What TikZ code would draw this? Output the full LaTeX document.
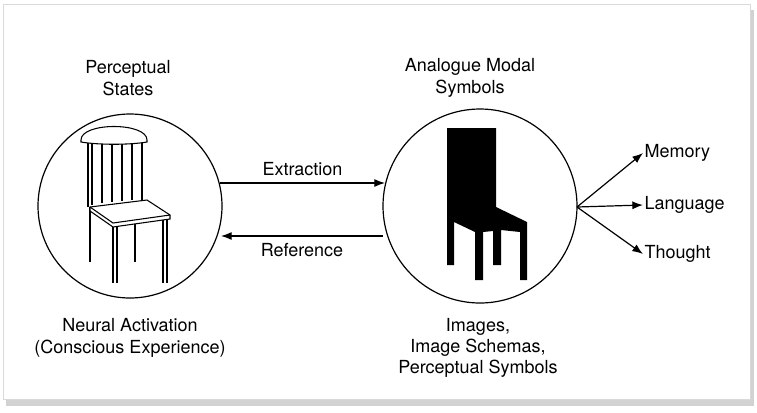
\documentclass[tikz,border=0pt]{standalone}
\usepackage{fontspec}
\usetikzlibrary{arrows.meta}
\setmainfont{TeX Gyre Heros}
\begin{document}
\begin{tikzpicture}[x=0.75pt,y=-0.75pt,
  lbl/.style={font=\fontsize{13.5}{16}\selectfont,align=center,inner sep=1pt},
  circ/.style={draw,circle,line width=0.9pt},
  arr/.style={-{Latex[length=8pt,width=6pt]},line width=0.9pt}]
\useasboundingbox (0,0) rectangle (757,412);
\fill[gray!35] (6,10) rectangle (754,406);
\fill[white,draw=gray!30] (3,4) rectangle (750,399);
% circles
\node[circ,minimum size=184*0.75pt] (L) at (130,206) {};
\node[circ,minimum size=194*0.75pt] (R) at (480,206) {};
% left chair
\begin{scope}[line width=0.8pt]
\draw (90,207)--(90,262) (135,221)--(135,262);
\draw (113,225)--(113,283) (117,226)--(117,283);
\draw (163,220)--(163,283) (167,219)--(167,283);
\draw (88,143)--(88,207) (92,143)--(92,205);
\draw (102,143)--(102,203) (112,143)--(112,202) (122,143)--(122,201) (132,143)--(132,200) (142,143)--(142,200);
\draw[fill=white] (81,140) .. controls (81,122) and (147,122) .. (147,140) -- (147,142) .. controls (130,145) and (98,145) .. (81,142) -- cycle;
\draw[fill=white] (90,207)--(147,200)--(170,215)--(170,219)--(113,227)--(90,211)--cycle;
\draw (90,207)--(113,223)--(170,215);
\end{scope}
% right chair
\fill (447,128)--(496,128)--(496,207)--(527,222)--(527,280)--(520,280)--(520,232)--(501,230)--(501,265)--(493,265)--(493,231)--(483,232)--(483,280)--(475,280)--(475,232)--(454,222)--(454,265)--(447,265)--cycle;
% labels
\node[lbl] (ps) at (128,78) {Perceptual\\States};
\node[lbl] (am) at (470,78) {Analogue Modal\\Symbols};
\node[lbl] (na) at (130,338) {Neural Activation\\(Conscious Experience)};
\node[lbl] (im) at (478,348) {Images,\\Image Schemas,\\Perceptual Symbols};
% arrows
\coordinate (e1) at (220,183); \coordinate (e2) at (385,183);
\coordinate (r1) at (383,236); \coordinate (r2) at (221,236);
\draw[arr] (e1)--(e2) node[lbl,midway,above=4pt] (ex) {Extraction};
\draw[arr] (r1)--(r2) node[lbl,midway,below=4pt] (rf) {Reference};
\coordinate (b) at (577,207);
\node[lbl,anchor=west] (me) at (643,153) {Memory};
\node[lbl,anchor=west] (la) at (643,205) {Language};
\node[lbl,anchor=west] (th) at (643,254) {Thought};
\draw[arr] (b)--(me.west);
\draw[arr] (b)--(la.west);
\draw[arr] (b)--(th.west);
\end{tikzpicture}
\end{document}
